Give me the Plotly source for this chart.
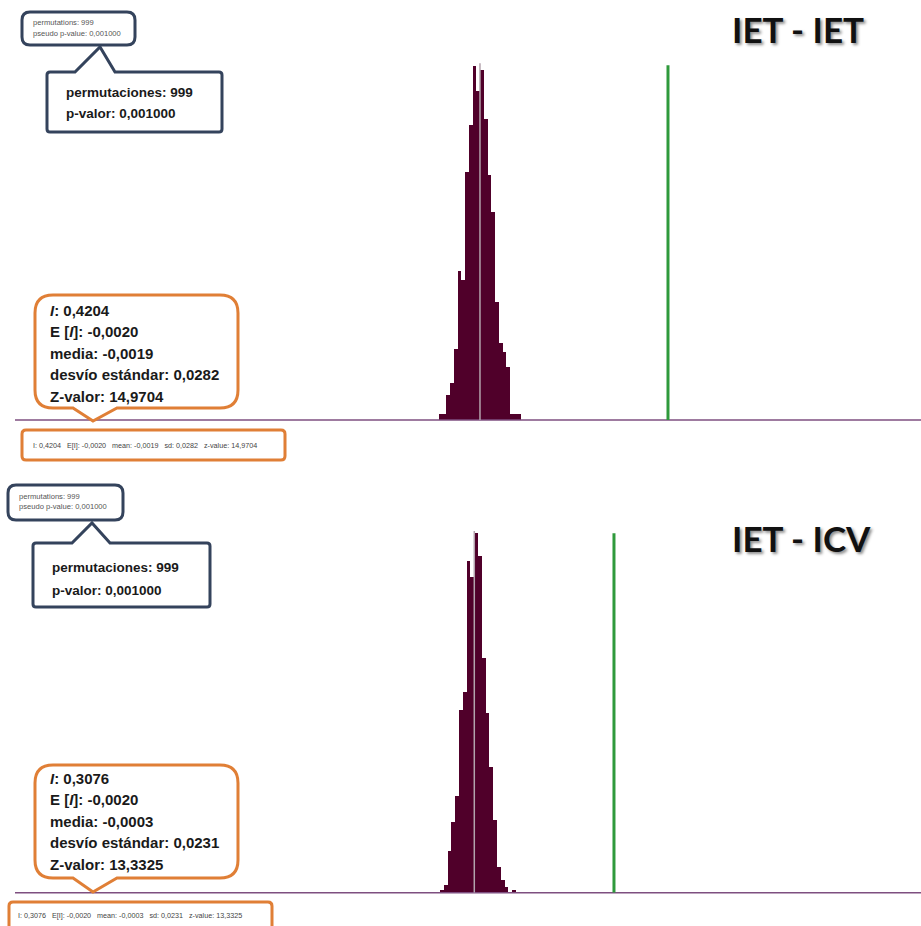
import plotly.graph_objects as go

# Permutation histograms for local Moran's I (999 permutations)
bins_iet = [-0.0898, -0.0814, -0.0730, -0.0646, -0.0561, -0.0477, -0.0393, -0.0309,
            -0.0225, -0.0140, -0.0056, 0.0028, 0.0112, 0.0196, 0.0281, 0.0365,
            0.0449, 0.0533, 0.0617, 0.0702, 0.0786, 0.0870]
counts_iet = [2, 2, 8, 12, 23, 48, 45, 80, 95, 114, 106, 113, 97, 79, 67, 38,
              25, 22, 17, 2, 2, 2]

bins_icv = [-0.0717, -0.0633, -0.0549, -0.0466, -0.0382, -0.0298, -0.0214, -0.0131,
            -0.0047, 0.0037, 0.0121, 0.0204, 0.0288, 0.0372, 0.0456, 0.0539,
            0.0623, 0.0707, 0.0791, 0.0874]
counts_icv = [1, 3, 16, 27, 37, 70, 77, 127, 121, 138, 129, 90, 69, 48, 28, 10,
              5, 2, 0, 1]

titles = ["IET - IET", "IET - ICV"]
observed_i = [0.4204, 0.3076]
expected_i = [-0.0020, -0.0020]
means = [-0.0019, -0.0003]
sds = [0.0282, 0.0231]
z_values = [14.9704, 13.3325]
permutations = 999
p_value = 0.001000

W, H = 921, 926
BAR = "#50002a"
NAVY = "#34435c"
ORANGE = "#e07f36"
SANS = "Liberation Sans, Arial"


def fmt(v, d=4):
    return f"{v:.{d}f}".replace(".", ",")


def bubble_path(x0, y0, x1, y1, r, tip=None):
    """Rounded box (pixel coords) with an optional pointer, as a paper path."""
    def p(x, y):
        return f"{x / W:.5f},{1 - y / H:.5f}"
    d = [f"M{p(x0 + r, y0)}"]
    if tip and tip[0] == "top":
        _, b0, b1, ax, ay = tip
        d += [f"L{p(b0, y0)}", f"L{p(ax, ay)}", f"L{p(b1, y0)}"]
    d += [f"L{p(x1 - r, y0)}", f"Q{p(x1, y0)} {p(x1, y0 + r)}",
          f"L{p(x1, y1 - r)}", f"Q{p(x1, y1)} {p(x1 - r, y1)}"]
    if tip and tip[0] == "bottom":
        _, b0, b1, ax, ay = tip
        d += [f"L{p(b1, y1)}", f"L{p(ax, ay)}", f"L{p(b0, y1)}"]
    d += [f"L{p(x0 + r, y1)}", f"Q{p(x0, y1)} {p(x0, y1 - r)}",
          f"L{p(x0, y0 + r)}", f"Q{p(x0, y0)} {p(x0 + r, y0)}", "Z"]
    return " ".join(d)


def note(x, y, text, size, color="#1a1a1a", family=SANS, anchor="left", **kw):
    return dict(x=x / W, y=1 - y / H, xref="paper", yref="paper", text=text,
                showarrow=False, xanchor=anchor, yanchor="middle",
                font=dict(size=size, color=color, family=family, **kw))


# layout per panel (pixel positions)
panels = [
    dict(bins=bins_iet, counts=counts_iet, width=0.00842,
         xrange=[-1.0396, 0.9887], yrange=[0, 117.7], ydom=[0.5464, 0.9406],
         base=420, line_top=114.4, mean_top=115, title=(798, 29),
         small=(22, 12, 135, 45), big=(47, 72, 222, 132, 75, 115, 100, 47),
         big_txt=(64, 92, 114), orange=(35, 295, 238, 408, 421), o_txt=(48, 310),
         strip=(22, 430, 285, 460), strip_txt=(31, 445)),
    dict(bins=bins_icv, counts=counts_icv, width=0.00838,
         xrange=[-1.0060, 0.9843], yrange=[0, 140.9], ydom=[0.0360, 0.4330],
         base=892.7, line_top=137.8, mean_top=138.6, title=(801, 538),
         small=(8, 485, 123, 520), big=(33, 543, 210, 607, 72, 110, 92, 523),
         big_txt=(50, 567, 590), orange=(35, 765, 238, 878, 892), o_txt=(48, 778),
         strip=(9, 902, 272, 940), strip_txt=(16, 915)),
]

fig = go.Figure()
shapes, annotations = [], []

for k, pn in enumerate(panels):
    xa, ya = ("x", "y") if k == 0 else ("x2", "y2")
    fig.add_trace(go.Bar(
        x=pn["bins"], y=pn["counts"], width=pn["width"], xaxis=xa, yaxis=ya,
        marker=dict(color=BAR, line=dict(width=0)),
        showlegend=False, hoverinfo="x+y",
    ))
    lay_x = "xaxis" if k == 0 else "xaxis2"
    lay_y = "yaxis" if k == 0 else "yaxis2"
    fig.update_layout({
        lay_x: dict(domain=[18 / W, 1], range=pn["xrange"], visible=False,
                    anchor=ya, fixedrange=True),
        lay_y: dict(domain=pn["ydom"], range=pn["yrange"], visible=False,
                    anchor=xa, fixedrange=True),
    })

    # baseline, mean line and observed value line
    yb = 1 - pn["base"] / H
    shapes.append(dict(type="line", xref="paper", yref="paper", x0=15 / W, x1=1,
                       y0=yb, y1=yb, line=dict(color="#7e4f80", width=1.5), layer="above"))
    shapes.append(dict(type="line", xref=xa, yref=ya, x0=means[k], x1=means[k],
                       y0=0, y1=pn["mean_top"], line=dict(color="#b3a3ad", width=1.5),
                       layer="above"))
    shapes.append(dict(type="line", xref=xa, yref=ya, x0=observed_i[k], x1=observed_i[k],
                       y0=0, y1=pn["line_top"], line=dict(color="#2f9a3c", width=3),
                       layer="above"))

    # title
    tx, ty = pn["title"]
    annotations.append(note(tx, ty, f"<b>{titles[k]}</b>", 35, color="#111",
                            family="Lato, Open Sans, Arial", anchor="center",
                            shadow="2px 2px 3px rgba(0,0,0,0.45)"))

    # small navy box (original output)
    sx0, sy0, sx1, sy1 = pn["small"]
    shapes.append(dict(type="path", xref="paper", yref="paper",
                       path=bubble_path(sx0, sy0, sx1, sy1, 8),
                       line=dict(color=NAVY, width=3), fillcolor="white"))
    annotations.append(note(sx0 + 9, sy0 + 11, f"permutations: {permutations}", 7.6,
                            color="#555"))
    annotations.append(note(sx0 + 9, sy0 + 22, f"pseudo p-value: {fmt(p_value, 6)}", 7.6,
                            color="#555"))

    # big navy callout (translation)
    bx0, by0, bx1, by1, t0, t1, ax, ay = pn["big"]
    shapes.append(dict(type="path", xref="paper", yref="paper",
                       path=bubble_path(bx0, by0, bx1, by1, 3, ("top", t0, t1, ax, ay)),
                       line=dict(color=NAVY, width=3), fillcolor="white"))
    lx, l1, l2 = pn["big_txt"]
    annotations.append(note(lx, l1, f"<b>permutaciones: {permutations}</b>", 13.5))
    annotations.append(note(lx, l2, f"<b>p-valor: {fmt(p_value, 6)}</b>", 13.5))

    # orange callout with statistics
    ox0, oy0, ox1, oy1, oay = pn["orange"]
    shapes.append(dict(type="path", xref="paper", yref="paper",
                       path=bubble_path(ox0, oy0, ox1, oy1, 18, ("bottom", 73, 117, 93, oay)),
                       line=dict(color=ORANGE, width=3), fillcolor="white"))
    lines = [
        f"<b><i>I</i>: {fmt(observed_i[k])}</b>",
        f"<b>E [<i>I</i>]: {fmt(expected_i[k])}</b>",
        f"<b>media: {fmt(means[k])}</b>",
        f"<b>desvío estándar: {fmt(sds[k])}</b>",
        f"<b>Z-valor: {fmt(z_values[k])}</b>",
    ]
    otx, oty = pn["o_txt"]
    for j, t in enumerate(lines):
        annotations.append(note(otx, oty + j * 21.5, t, 15))

    # orange strip (original summary line)
    rx0, ry0, rx1, ry1 = pn["strip"]
    shapes.append(dict(type="path", xref="paper", yref="paper",
                       path=bubble_path(rx0, ry0, rx1, ry1, 4),
                       line=dict(color=ORANGE, width=3), fillcolor="white"))
    stx, sty = pn["strip_txt"]
    summary = (f"I: {fmt(observed_i[k])}&nbsp;&nbsp; E[I]: {fmt(expected_i[k])}&nbsp;&nbsp; "
               f"mean: {fmt(means[k])}&nbsp;&nbsp; sd: {fmt(sds[k])}&nbsp;&nbsp; "
               f"z-value: {fmt(z_values[k])}")
    annotations.append(note(stx, sty, summary, 7.2, color="#444"))

fig.update_layout(
    width=W, height=H,
    margin=dict(l=0, r=0, t=0, b=0),
    paper_bgcolor="white", plot_bgcolor="white",
    bargap=0, showlegend=False,
    shapes=shapes, annotations=annotations,
)

# drop the default body margin so the figure sits at the window's corner
fig.write_html("out.html", config={"displayModeBar": False},
               post_script="document.body.style.margin='0';")
